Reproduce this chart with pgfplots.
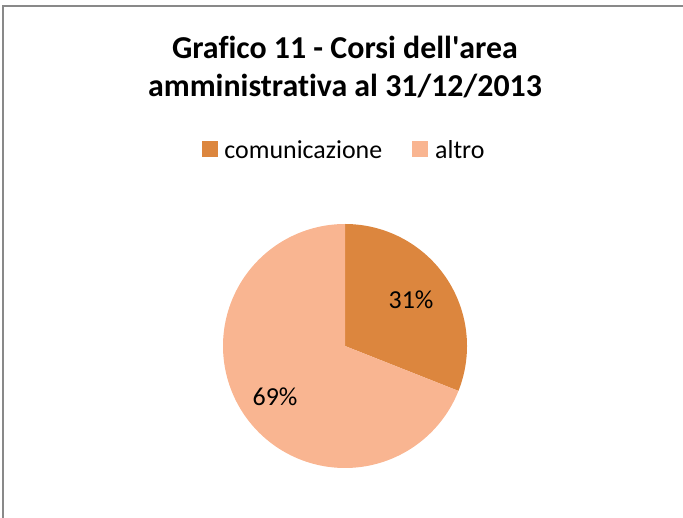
\documentclass[border=0pt]{standalone}
\usepackage{pgfplots}
\usepackage{pgfplotstable}
\pgfplotsset{compat=1.18}
\usepackage{fontspec}
\setmainfont{Carlito}[Ligatures={NoCommon}]
\definecolor{comcol}{RGB}{220,134,62}
\definecolor{altcol}{RGB}{249,181,145}
\definecolor{framecol}{RGB}{137,137,137}
\pgfplotstableread{
slice value
comunicazione 31
altro 69
}\piedata
\pgfplotstablegetelem{0}{value}\of\piedata
\let\vcom\pgfplotsretval
\pgfplotstablegetelem{1}{value}\of\piedata
\let\valt\pgfplotsretval
\begin{document}
\begin{tikzpicture}
\begin{axis}[
  scale only axis, width=683bp, height=518bp,
  xmin=0, xmax=683, ymin=0, ymax=518,
  hide axis, clip=false,
  legend columns=2,
  legend style={at={(axis cs:344,368)}, anchor=center, draw=none, fill=none,
    font=\fontsize{26}{30}\selectfont,
    /tikz/every even column/.append style={column sep=28bp},
    inner sep=0pt},
  legend image code/.code={\fill[#1, draw=none] (0bp,-7bp) rectangle (16bp,9bp); \path[draw=none, fill=none] (0bp,0bp) -- (21bp,0bp);},
]
\addplot[fill=comcol, draw=none, domain={90-\vcom*3.6}:90, samples=120, variable=\t]
  ({345+122*cos(t)}, {172+122*sin(t)}) -- (axis cs:345,172) -- cycle;
\addlegendentry{comunicazione}
\addplot[fill=altcol, draw=none, domain={90-\vcom*3.6-\valt*3.6}:{90-\vcom*3.6}, samples=200, variable=\t]
  ({345+122*cos(t)}, {172+122*sin(t)}) -- (axis cs:345,172) -- cycle;
\addlegendentry{altro}
\node[font=\fontsize{26}{30}\selectfont] at (axis cs:411,218) {31\%};
\node[font=\fontsize{26}{30}\selectfont] at (axis cs:275,121) {69\%};
\node[font=\bfseries\fontsize{32}{39}\selectfont, align=center] at (axis cs:345,451)
  {Grafico 11 - Corsi dell\textquotesingle area\\amministrativa al 31/12/2013};
\draw[framecol, line width=2bp] (axis cs:3,-20) -- (axis cs:3,511.5) -- (axis cs:700,511.5);
\end{axis}
\pgfresetboundingbox
\path[use as bounding box] (0,0) rectangle (683bp,518bp);
\end{tikzpicture}
\end{document}
